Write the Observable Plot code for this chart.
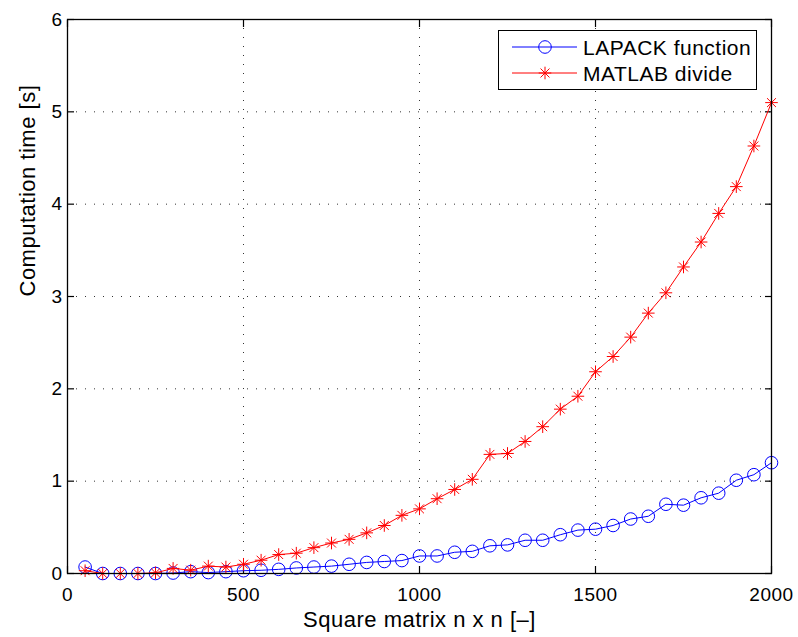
<!DOCTYPE html>
<html><head><meta charset="utf-8">
<script src="https://cdn.jsdelivr.net/npm/d3@7"></script>
<script src="https://cdn.jsdelivr.net/npm/@observablehq/plot@0.6"></script>
<style>
body{margin:0;background:#fff;}
#wrap{position:relative;width:798px;height:637px;font-family:"Liberation Sans",Arial,sans-serif;}
#wrap svg text{letter-spacing:0.5px;}
#wrap svg g[aria-label="xlabel"] text{letter-spacing:0.65px;}
#wrap svg g[aria-label="ylabel"] text{letter-spacing:1.3px;}
#legend{position:absolute;left:498px;top:30px;width:257px;height:58px;border:1px solid #000;background:#fff;}
#legend svg{position:absolute;left:0;top:0;}
</style></head><body><div id="wrap"></div>
<script>
const sizes = [50,100,150,200,250,300,350,400,450,500,550,600,650,700,750,800,850,900,950,1000,1050,1100,1150,1200,1250,1300,1350,1400,1450,1500,1550,1600,1650,1700,1750,1800,1850,1900,1950,2000];
const lapack = [0.07,0,0,0,0,0.005,0.02,0.01,0.02,0.03,0.035,0.045,0.06,0.07,0.08,
  0.10,0.12,0.13,0.14,0.19,0.19,0.23,0.24,0.30,0.31,0.36,0.36,0.42,0.47,
  0.48,0.52,0.59,0.62,0.75,0.74,0.82,0.87,1.01,1.07,1.20];
const matlab = [0.03,0,0,0,0.007,0.055,0.036,0.08,0.07,0.10,0.144,0.205,0.22,0.28,0.33,
  0.37,0.44,0.52,0.63,0.70,0.81,0.91,1.02,1.29,1.30,1.43,1.59,1.78,1.92,
  2.185,2.35,2.56,2.82,3.04,3.32,3.59,3.90,4.19,4.63,5.10];
const xTicks = [0,500,1000,1500,2000];
const yTicks = [0,1,2,3,4,5,6];
const seriesNames = ["LAPACK function","MATLAB divide"];
const seriesColors = ["#0000ff","#ff0000"];
const xLabel = "Square matrix n x n [–]";
const yLabel = "Computation time [s]";

const rowsA = sizes.map((n,i)=>({n, t: lapack[i]}));
const rowsB = sizes.map((n,i)=>({n, t: matlab[i]}));

const asterisk = {draw(ctx, size){
  const r = Math.sqrt(size/Math.PI), d = r*Math.SQRT1_2;
  ctx.moveTo(-r,0); ctx.lineTo(r,0);
  ctx.moveTo(0,-r); ctx.lineTo(0,r);
  ctx.moveTo(-d,-d); ctx.lineTo(d,d);
  ctx.moveTo(-d,d); ctx.lineTo(d,-d);
}};

const fmt = d3.format("d");
const grid = {stroke:"#000", strokeOpacity:0.8, strokeWidth:1, strokeDasharray:"1,8"};
const chart = Plot.plot({
  width:798, height:637,
  marginLeft:67, marginRight:27, marginTop:19, marginBottom:64,
  style:{fontFamily:'"Liberation Sans",Arial,sans-serif', fontSize:"19px", color:"#000", background:"#fff"},
  x:{domain:[0,2000]},
  y:{domain:[0,6]},
  marks:[
    Plot.gridX(xTicks.slice(1,-1), grid),
    Plot.gridY(yTicks.slice(1,-1), grid),
    Plot.axisX(xTicks,{anchor:"bottom", tickSize:-7, tickPadding:20.5, tickFormat:fmt, label:null, fontSize:19, strokeWidth:1.2}),
    Plot.axisX(xTicks,{anchor:"top", tickSize:-7, tickFormat:()=>"", label:null, strokeWidth:1.2}),
    Plot.axisY(yTicks,{anchor:"left", tickSize:-7, tickPadding:12, tickFormat:fmt, label:null, fontSize:19, strokeWidth:1.2}),
    Plot.axisY(yTicks,{anchor:"right", tickSize:-7, tickFormat:()=>"", label:null, strokeWidth:1.2}),
    Plot.line(rowsA,{x:"n", y:"t", stroke:seriesColors[0], strokeWidth:1}),
    Plot.dot(rowsA,{x:"n", y:"t", r:6.3, stroke:seriesColors[0], fill:"none", strokeWidth:1}),
    Plot.line(rowsB,{x:"n", y:"t", stroke:seriesColors[1], strokeWidth:1}),
    Plot.dot(rowsB,{x:"n", y:"t", r:6.3, symbol:asterisk, stroke:seriesColors[1], fill:"none", strokeWidth:1}),
    Plot.frame({stroke:"#000", strokeWidth:1.3}),
    Plot.text([xLabel],{frameAnchor:"bottom", dy:53, fontSize:22, fill:"#000", ariaLabel:"xlabel"}),
    Plot.text([yLabel],{frameAnchor:"left", dx:-40, rotate:-90, fontSize:22, fill:"#000", ariaLabel:"ylabel"})
  ]
});
const wrap = document.getElementById("wrap");
wrap.appendChild(chart);

// legend
const lg = document.createElement("div");
lg.id = "legend";
const ns = "http://www.w3.org/2000/svg";
const lsvg = document.createElementNS(ns,"svg");
lsvg.setAttribute("width","257"); lsvg.setAttribute("height","58");
seriesNames.forEach((name,i)=>{
  const y = 16 + i*26;
  const ln = document.createElementNS(ns,"line");
  ln.setAttribute("x1",13); ln.setAttribute("x2",78); ln.setAttribute("y1",y); ln.setAttribute("y2",y);
  ln.setAttribute("stroke",seriesColors[i]); ln.setAttribute("stroke-width",1);
  lsvg.appendChild(ln);
  const p = document.createElementNS(ns,"path");
  const path = d3.path();
  if (i===0) { path.arc(0,0,6.3,0,2*Math.PI); }
  else { asterisk.draw(path, Math.PI*6.3*6.3); }
  p.setAttribute("d", path.toString());
  p.setAttribute("transform",`translate(46,${y})`);
  p.setAttribute("fill","none"); p.setAttribute("stroke",seriesColors[i]);
  lsvg.appendChild(p);
  const t = document.createElementNS(ns,"text");
  t.setAttribute("x",84); t.setAttribute("y",y+7.5);
  t.setAttribute("font-size","21"); t.setAttribute("font-family",'"Liberation Sans",Arial,sans-serif');
  t.setAttribute("fill","#000");
  t.textContent = name;
  lsvg.appendChild(t);
});
lg.appendChild(lsvg);
wrap.appendChild(lg);
</script></body></html>
